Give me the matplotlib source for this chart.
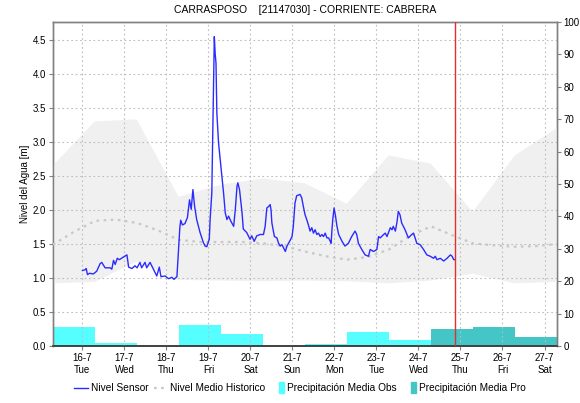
import matplotlib
matplotlib.use("Agg")
import matplotlib.pyplot as plt
from matplotlib.patches import Rectangle, Patch
from matplotlib.lines import Line2D
from matplotlib.legend_handler import HandlerPatch

plt.rcParams['font.family'] = ['Liberation Sans', 'DejaVu Sans']

# ---- data (x values are days of July) ----
day_ticks = [16, 17, 18, 19, 20, 21, 22, 23, 24, 25, 26, 27]
weekdays = ["Tue", "Wed", "Thu", "Fri", "Sat", "Sun", "Mon", "Tue", "Wed", "Thu", "Fri", "Sat"]

sensor_day = [
    16.00, 16.06, 16.09, 16.12, 16.17, 16.26, 16.34, 16.42, 16.46, 16.54, 16.66, 16.70,
    16.74, 16.78, 16.83, 16.88, 16.98, 17.06, 17.10, 17.18, 17.25, 17.30, 17.37, 17.41,
    17.49, 17.53, 17.61, 17.69, 17.77, 17.83, 17.87, 17.97, 18.05, 18.13, 18.18, 18.25,
    18.32, 18.34, 18.38, 18.44, 18.50, 18.55, 18.59, 18.63, 18.67, 18.72, 18.80, 18.88,
    18.92, 18.96, 19.02, 19.04, 19.08, 19.10, 19.12, 19.14, 19.16, 19.18, 19.20, 19.24,
    19.28, 19.32, 19.36, 19.40, 19.44, 19.48, 19.53, 19.60, 19.64, 19.68, 19.70, 19.74,
    19.80, 19.83, 19.91, 19.99, 20.03, 20.09, 20.15, 20.23, 20.31, 20.35, 20.39, 20.43,
    20.47, 20.49, 20.51, 20.57, 20.63, 20.67, 20.71, 20.75, 20.79, 20.83, 20.87, 20.95,
    20.99, 21.02, 21.06, 21.10, 21.18, 21.22, 21.26, 21.30, 21.34, 21.38, 21.42, 21.46,
    21.50, 21.54, 21.58, 21.62, 21.66, 21.70, 21.74, 21.78, 21.82, 21.86, 21.90, 21.92,
    21.94, 21.96, 21.99, 22.02, 22.06, 22.10, 22.18, 22.25, 22.33, 22.41, 22.49, 22.53,
    22.57, 22.65, 22.73, 22.81, 22.85, 22.93, 23.01, 23.05, 23.09, 23.17, 23.21, 23.25,
    23.33, 23.37, 23.40, 23.45, 23.49, 23.52, 23.56, 23.60, 23.68, 23.76, 23.84, 23.88,
    23.92, 23.96, 24.04, 24.12, 24.20, 24.28, 24.36, 24.40, 24.44, 24.52, 24.60, 24.68,
    24.76, 24.80, 24.84, 24.87,
]
sensor_level = [
    1.11, 1.12, 1.14, 1.05, 1.07, 1.06, 1.10, 1.21, 1.23, 1.15, 1.15, 1.13,
    1.26, 1.20, 1.29, 1.27, 1.31, 1.34, 1.16, 1.14, 1.18, 1.15, 1.23, 1.15,
    1.23, 1.15, 1.23, 1.13, 1.03, 1.16, 1.02, 1.03, 0.99, 1.01, 0.98, 1.02,
    1.75, 1.85, 1.78, 1.80, 1.89, 2.15, 2.01, 2.30, 2.06, 1.86, 1.67, 1.52,
    1.47, 1.46, 1.57, 1.86, 2.25, 3.03, 3.72, 4.55, 4.30, 4.16, 3.43, 2.99,
    2.74, 2.50, 2.25, 1.96, 1.86, 1.91, 1.84, 1.76, 2.01, 2.35, 2.40, 2.30,
    1.96, 1.72, 1.67, 1.57, 1.62, 1.54, 1.62, 1.64, 1.64, 1.76, 2.03, 2.05,
    2.08, 2.00, 1.81, 1.61, 1.59, 1.51, 1.47, 1.49, 1.44, 1.39, 1.47, 1.56,
    1.61, 1.76, 2.10, 2.21, 2.23, 2.18, 2.05, 1.93, 1.86, 1.78, 1.69, 1.74,
    1.66, 1.71, 1.64, 1.66, 1.61, 1.64, 1.61, 1.66, 1.59, 1.59, 1.54, 1.51,
    1.71, 1.86, 2.03, 1.93, 1.76, 1.64, 1.54, 1.47, 1.51, 1.61, 1.69, 1.64,
    1.51, 1.42, 1.34, 1.32, 1.42, 1.39, 1.42, 1.61, 1.59, 1.64, 1.66, 1.61,
    1.74, 1.71, 1.76, 1.69, 1.83, 1.98, 1.93, 1.81, 1.71, 1.59, 1.64, 1.66,
    1.59, 1.51, 1.49, 1.42, 1.34, 1.32, 1.29, 1.32, 1.27, 1.29, 1.25, 1.29,
    1.34, 1.32, 1.27, 1.27,
]

hist_day = [15.30, 16.28, 17.28, 18.28, 19.28, 20.28, 21.28, 22.28, 23.28, 24.28, 25.28, 26.28, 27.30]
hist_upper = [2.67, 3.31, 3.34, 2.20, 2.38, 2.47, 2.40, 2.10, 2.81, 2.69, 1.98, 2.81, 3.22]
hist_lower = [0.93, 0.95, 1.25, 0.98, 0.97, 0.96, 0.97, 0.96, 0.93, 0.97, 1.07, 0.93, 0.95]

mean_day = [15.3, 15.8, 16.3, 16.8, 17.3, 17.8, 18.3, 18.8, 19.3, 19.8, 20.3, 20.8, 21.3,
            21.8, 22.3, 22.8, 23.3, 23.8, 24.3, 24.8, 25.3, 25.8, 26.3, 26.8, 27.3]
mean_level = [1.49, 1.68, 1.84, 1.86, 1.81, 1.70, 1.56, 1.53, 1.53, 1.53, 1.51, 1.47, 1.39,
              1.32, 1.27, 1.31, 1.42, 1.62, 1.76, 1.63, 1.51, 1.48, 1.46, 1.47, 1.50]

obs_start = [15.3, 16.3, 17.3, 18.3, 19.3, 20.3, 21.3, 22.3, 23.3]
obs_precip = [6.0, 0.9, 0.4, 6.6, 3.7, 0.3, 0.5, 4.4, 2.0]
pro_start = [24.3, 25.3, 26.3]
pro_precip = [5.35, 5.76, 2.88]

now_day = 24.87

# ---- figure ----
fig = plt.figure(figsize=(5.8, 4.03), dpi=100)
ax = fig.add_axes([0.0914, 0.1414, 0.8684, 0.804])
ax2 = ax.twinx()
ax.set_zorder(ax2.get_zorder() + 1)
ax.patch.set_visible(False)

x_min, x_max = 15.3, 27.29
ax.set_xlim(x_min, x_max)
ax.set_ylim(0, 4.765)
ax2.set_ylim(0, 100)

# precipitation bars on the secondary axis
ax2.bar(obs_start, obs_precip, width=1.0, align='edge', color='#55ffff', linewidth=0, zorder=2)
ax2.bar(pro_start, pro_precip, width=1.0, align='edge', color='#45c6c6', linewidth=0, zorder=2)

# historical band and mean
ax.fill_between(hist_day, hist_lower, hist_upper, color='#f0f0f0', linewidth=0, zorder=1)
grid_kw = dict(color='#bdbdbd', linewidth=0.8, linestyle=(0, (1.5, 2.5)), zorder=2)
for d in day_ticks:
    ax.axvline(d, **grid_kw)
for v in [0.5, 1.0, 1.5, 2.0, 2.5, 3.0, 3.5, 4.0, 4.5]:
    ax.axhline(v, **grid_kw)

ax.plot(mean_day, mean_level, color='#c8c8c8', linewidth=1.6, linestyle=(0, (1.2, 2.0)), zorder=3)
ax.plot(sensor_day, sensor_level, color='#2b2bff', linewidth=1.0, zorder=4)
ax.axvline(now_day, color='#e03030', linewidth=1.0, zorder=5)

# axes styling
ax.set_xticks(day_ticks)
ax.set_xticklabels([f"{d}-7\n{w}" for d, w in zip(day_ticks, weekdays)], fontsize=7, linespacing=1.25)
yt = [0.0, 0.5, 1.0, 1.5, 2.0, 2.5, 3.0, 3.5, 4.0, 4.5]
ax.set_yticks(yt)
ax.set_yticklabels([f"{v:.1f}" for v in yt], fontsize=7)
ax2.set_yticks(range(0, 101, 10))
ax2.set_yticklabels([str(v) for v in range(0, 101, 10)], fontsize=7)
ax.tick_params(axis='both', length=3, width=0.8, color='#808080', pad=2)
ax2.tick_params(axis='y', length=3, width=0.8, color='#808080', pad=2)
ax.set_ylabel("Nivel del Agua [m]", fontsize=7, labelpad=2)

for a in (ax, ax2):
    for s in ('left', 'right', 'top'):
        a.spines[s].set_color('#808080')
        a.spines[s].set_linewidth(1.0)
    a.spines['bottom'].set_color('#404040')
    a.spines['bottom'].set_linestyle((0, (1, 1)))
    a.spines['bottom'].set_linewidth(1.2)

fig.text(0.526, 0.975, "CARRASPOSO    [21147030] - CORRIENTE: CABRERA",
         ha='center', va='center', fontsize=7.5)


def narrow_patch(legend, orig_handle, xdescent, ydescent, width, height, fontsize):
    w = 0.35 * width
    return Rectangle((-xdescent + width - w, -ydescent - 0.25 * height), w, 1.5 * height)


handles = [
    Line2D([], [], color='#2b2bff', linewidth=1.0),
    Line2D([], [], color='#c8c8c8', linewidth=1.6, linestyle=(0, (1.2, 2.0))),
    Patch(color='#55ffff'),
    Patch(color='#45c6c6'),
]
labels = ["Nivel Sensor", "Nivel Medio Historico", "Precipitación Media Obs", "Precipitación Media Pro"]
fig.legend(handles, labels, loc='center', bbox_to_anchor=(0.517, 0.037), ncol=4, frameon=False,
           fontsize=7.3, handlelength=1.35, handletextpad=0.3, columnspacing=0.5,
           handler_map={Patch: HandlerPatch(patch_func=narrow_patch)})

fig.savefig("out.png", dpi=100)
